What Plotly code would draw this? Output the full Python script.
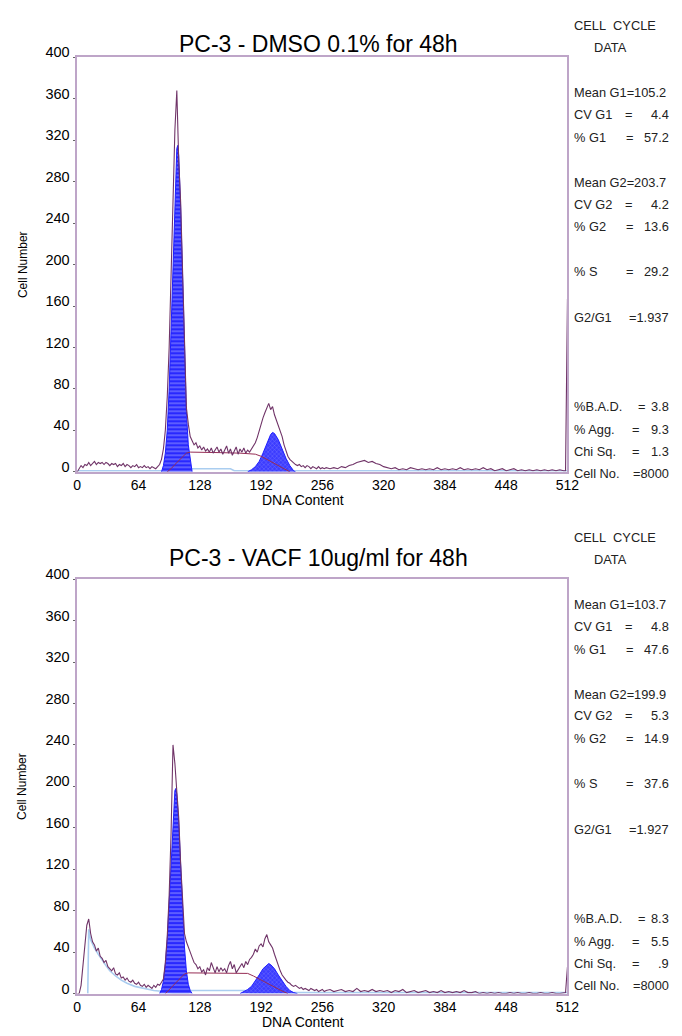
import plotly.graph_objects as go

W, H = 682, 1036

# ---------------- DATA ----------------
x_ticks = [0, 64, 128, 192, 256, 320, 384, 448, 512]
y_ticks = [0, 40, 80, 120, 160, 200, 240, 280, 320, 360, 400]

titles = ["PC-3 - DMSO 0.1% for 48h", "PC-3 - VACF 10ug/ml for 48h"]

# raw histogram channels (every 2 channels up to 258, then every 4)
raw_ch = list(range(0, 260, 2)) + list(range(260, 512, 4)) + [510, 512]

top_raw = [0, 3, 6, 4, 7, 6, 9, 6, 8, 10, 7, 9, 8, 9, 7, 9, 8, 6, 8, 7,
           8, 5, 7, 6, 8, 5, 7, 6, 4, 6, 5, 7, 4, 5, 4, 6, 4, 5, 3, 5,
           4, 3, 5, 7, 12, 22, 40, 72, 120, 185, 260, 330, 368, 300, 260, 185, 115, 62, 46, 34,
           30, 26, 28, 23, 25, 21, 24, 20, 22, 19, 23, 18, 21, 24, 19, 22, 17, 21, 25, 18,
           22, 16, 20, 24, 17, 22, 19, 23, 18, 21, 19, 22, 24, 28, 33, 40, 46, 52, 57, 62,
           66, 60, 63, 55, 50, 44, 39, 34, 26, 20, 15, 12, 10, 8, 7, 6, 7, 5, 6, 4,
           6, 5, 3, 5, 4, 3, 5, 3, 4, 3,
           4, 3, 4, 3, 5, 4, 6, 7, 9, 10, 11, 9, 10, 8, 7, 5, 4, 3, 4, 2,
           3, 2, 4, 3, 2, 3, 2, 3, 2, 4, 2, 3, 2, 3, 2, 4, 2, 3, 2, 3,
           2, 4, 2, 3, 1, 2, 3, 1, 2, 3, 1, 2, 1, 2, 1, 2, 1, 2, 1, 2,
           1, 2, 1, 1, 167]

bot_raw = [0, 0, 8, 30, 50, 66, 72, 58, 50, 47, 41, 44, 36, 34, 30, 32, 26, 24, 22, 25,
           19, 18, 20, 15, 16, 13, 15, 12, 11, 13, 10, 9, 11, 8, 7, 9, 6, 8, 6, 5,
           8, 6, 9, 8, 11, 14, 30, 55, 95, 155, 240, 222, 195, 170, 125, 88, 58, 50, 44, 40,
           35, 30, 28, 24, 26, 21, 23, 18, 25, 22, 30, 24, 20, 26, 21, 25, 22, 24, 20, 27,
           31, 24, 28, 20, 23, 26, 29, 25, 31, 28, 33, 35, 38, 43, 40, 46, 48, 45, 53, 57,
           50, 47, 44, 38, 32, 26, 22, 18, 15, 13, 11, 10, 8, 7, 8, 6, 5, 6, 4, 5,
           4, 3, 5, 4, 3, 4, 2, 3, 4, 2,
           3, 4, 2, 3, 4, 2, 3, 2, 5, 2, 3, 2, 4, 2, 3, 2, 3, 1, 3, 2,
           4, 1, 2, 3, 1, 2, 3, 1, 2, 1, 3, 1, 2, 1, 2, 1, 3, 1, 1, 2,
           0, 1, 0, 1, 0, 1, 0, 0, 1, 0, 1, 0, 0, 1, 0, 0, 1, 0, 0, 1,
           0, 0, 1, 1, 26]

# G1 model fits
top_g1_ch = [88, 90, 92, 94, 96, 98, 100, 102, 104, 105, 106, 108, 110, 112, 114, 116, 118, 120]
top_g1 = [0, 6, 18, 40, 80, 140, 210, 275, 312, 315, 305, 255, 180, 110, 58, 26, 10, 0]
bot_g1_ch = [86, 88, 90, 92, 94, 96, 98, 100, 102, 103, 104, 106, 108, 110, 112, 114, 116, 118, 120]
bot_g1 = [0, 4, 12, 28, 52, 88, 130, 172, 196, 198, 192, 165, 122, 80, 45, 22, 9, 3, 0]

# G2 model fits
top_g2_ch = [178, 182, 186, 190, 194, 198, 202, 204, 206, 210, 214, 218, 222, 226, 228]
top_g2 = [0, 2, 5, 10, 18, 28, 36, 38, 37, 31, 22, 13, 6, 1, 0]
bot_g2_ch = [170, 174, 178, 182, 186, 190, 194, 198, 200, 202, 206, 210, 214, 218, 222, 226, 230]
bot_g2 = [0, 2, 4, 7, 12, 18, 24, 28, 29, 28, 24, 18, 12, 7, 3, 1, 0]

# S-phase model
top_s_ch = [94, 98, 102, 106, 110, 114, 118, 130, 150, 170, 186, 192, 198, 204, 210, 216, 222]
top_s = [0, 3, 7, 11, 15, 18, 19, 19, 18.5, 18, 17, 15, 12, 9, 6, 3, 0]
bot_s_ch = [92, 96, 100, 104, 108, 112, 116, 140, 160, 178, 184, 190, 196, 202, 208, 214, 220]
bot_s = [0, 4, 8, 12, 16, 19, 20, 20, 20, 19.5, 17, 14, 11, 8, 5, 2.5, 0]

# debris / aggregate model (light blue)
top_deb_ch = [0, 118, 120, 160, 164, 512]
top_deb = [1, 1, 3, 3, 1, 1]
bot_deb_ch = [11, 12, 14, 18, 22, 26, 30, 34, 40, 46, 52, 60, 70, 80, 90, 100, 116, 118, 175, 180, 512]
bot_deb = [0, 62, 52, 44, 38, 32, 27, 22, 17, 13, 10, 7, 5, 3, 2, 1, 1, 3, 3, 1, 1]

stat_labels = ["Mean G1", "CV G1", "% G1", "Mean G2", "CV G2", "% G2", "% S", "G2/G1",
               "%B.A.D.", "% Agg.", "Chi Sq.", "Cell No."]
top_values = ["105.2", "4.4", "57.2", "203.7", "4.2", "13.6", "29.2", "1.937", "3.8", "9.3", "1.3", "8000"]
bot_values = ["103.7", "4.8", "47.6", "199.9", "5.3", "14.9", "37.6", "1.927", "8.3", "5.5", ".9", "8000"]

# ---------------- STYLE / LAYOUT ----------------
FONT = "Liberation Sans, Arial, sans-serif"
FRAME = "rgb(190,165,200)"
RAW = "rgb(112,52,104)"
SLINE = "rgb(150,45,85)"
BLUE = "rgb(30,30,255)"
DEB = "rgb(170,205,240)"

# pixel geometry of the two panels: (top px, bottom px)
panel_px = [(45, 466), (575, 996)]
title_px = [31, 554]
x_px = (75, 577)
stat_row_px = [81, 103, 126, 172, 194, 217, 263, 309, 400, 423, 445, 468]
stat_style = ["join", "eq", "eq", "join", "eq", "eq", "eq", "att", "eq", "eq", "eq", "att"]
eq_px = [0, 640, 641, 0, 640, 641, 641, 0, 653, 647, 647, 0]
stat_shift = [0, 520]

def px(xp):
    return xp / W

def py(yp):
    return 1 - yp / H

fig = go.Figure()

raws = [top_raw, bot_raw]
g1s = [(top_g1_ch, top_g1), (bot_g1_ch, bot_g1)]
g2s = [(top_g2_ch, top_g2), (bot_g2_ch, bot_g2)]
ss = [(top_s_ch, top_s), (bot_s_ch, bot_s)]
debs = [(top_deb_ch, top_deb), (bot_deb_ch, bot_deb)]
vals = [top_values, bot_values]

annotations = []
for i in range(2):
    xa = "x" if i == 0 else "x2"
    ya = "y" if i == 0 else "y2"
    fig.add_trace(go.Scatter(x=debs[i][0], y=debs[i][1], mode="lines",
                             line=dict(color=DEB, width=1.6), xaxis=xa, yaxis=ya,
                             showlegend=False, hoverinfo="skip"))
    fig.add_trace(go.Scatter(x=g1s[i][0], y=g1s[i][1], mode="lines", fill="tozeroy",
                             line=dict(color=BLUE, width=1),
                             fillcolor="rgb(40,40,255)",
                             fillpattern=dict(shape="-", bgcolor="rgb(40,40,255)",
                                              fgcolor="rgb(190,190,255)", size=4, solidity=0.35),
                             xaxis=xa, yaxis=ya, showlegend=False, hoverinfo="skip"))
    fig.add_trace(go.Scatter(x=g2s[i][0], y=g2s[i][1], mode="lines", fill="tozeroy",
                             line=dict(color=BLUE, width=1),
                             fillcolor="rgb(60,60,255)",
                             fillpattern=dict(shape="x", bgcolor="rgb(60,60,255)",
                                              fgcolor="rgb(160,160,255)", size=3, solidity=0.3),
                             xaxis=xa, yaxis=ya, showlegend=False, hoverinfo="skip"))
    fig.add_trace(go.Scatter(x=ss[i][0], y=ss[i][1], mode="lines",
                             line=dict(color=SLINE, width=1),
                             xaxis=xa, yaxis=ya, showlegend=False, hoverinfo="skip"))
    fig.add_trace(go.Scatter(x=raw_ch, y=raws[i], mode="lines",
                             line=dict(color=RAW, width=1.1),
                             xaxis=xa, yaxis=ya, showlegend=False, hoverinfo="skip"))

    top, bot = panel_px[i]
    annotations.append(dict(text=titles[i], xref="paper", yref="paper",
                            x=px(322), y=py(title_px[i]), xanchor="center", yanchor="middle",
                            showarrow=False, font=dict(family=FONT, size=23, color="black")))
    annotations.append(dict(text="DNA Content", xref="paper", yref="paper",
                            x=px(306), y=py(bot + 29), xanchor="center", yanchor="middle",
                            showarrow=False, font=dict(family=FONT, size=14, color="black")))
    annotations.append(dict(text="Cell Number", xref="paper", yref="paper",
                            x=px(19), y=py((top + bot) / 2), xanchor="center", yanchor="middle",
                            textangle=-90, showarrow=False,
                            font=dict(family=FONT, size=12, color="black")))
    sh = stat_shift[i]
    f = dict(family=FONT, size=12.8, color="#222")
    annotations.append(dict(text="CELL&nbsp;&nbsp;CYCLE", xref="paper", yref="paper",
                            x=px(626), y=py(13 + sh), xanchor="center", yanchor="middle",
                            showarrow=False, font=f))
    annotations.append(dict(text="DATA", xref="paper", yref="paper",
                            x=px(621), y=py(35 + sh), xanchor="center", yanchor="middle",
                            showarrow=False, font=f))
    for k, lab in enumerate(stat_labels):
        yy = py(stat_row_px[k] + sh)
        v = vals[i][k]
        if stat_style[k] == "join":
            annotations.append(dict(text=f"{lab}={v}", xref="paper", yref="paper",
                                    x=px(582), y=yy, xanchor="left", yanchor="middle",
                                    showarrow=False, font=f))
            continue
        annotations.append(dict(text=lab, xref="paper", yref="paper",
                                x=px(582), y=yy, xanchor="left", yanchor="middle",
                                showarrow=False, font=f))
        if stat_style[k] == "eq":
            annotations.append(dict(text="=", xref="paper", yref="paper",
                                    x=px(eq_px[k]), y=yy, xanchor="center", yanchor="middle",
                                    showarrow=False, font=f, borderpad=0, borderwidth=0))
            vt = v
        else:
            vt = "=" + v
        annotations.append(dict(text=vt, xref="paper", yref="paper",
                                x=px(681), y=yy, xanchor="right", yanchor="middle",
                                showarrow=False, font=f, borderpad=0, borderwidth=0))

def xaxis_cfg(i):
    return dict(domain=[px(x_px[0]), px(x_px[1])], range=[0, 512], anchor="y" if i == 0 else "y2",
                tickvals=x_ticks, ticktext=[str(t) for t in x_ticks], ticks="",
                showline=True, linecolor=FRAME, linewidth=1.5, mirror=True,
                showgrid=False, zeroline=False, ticklabelstandoff=0,
                tickfont=dict(family=FONT, size=14, color="black"))

def yaxis_cfg(i):
    return dict(domain=[py(panel_px[i][1]), py(panel_px[i][0])], range=[0, 400],
                anchor="x" if i == 0 else "x2",
                tickvals=y_ticks, ticktext=[str(t) for t in y_ticks],
                ticks="outside", ticklen=2, tickcolor="#666", tickwidth=1,
                ticklabelshift=-5, ticklabelstandoff=1,
                showline=True, linecolor=FRAME, linewidth=1.5, mirror=True,
                showgrid=False, zeroline=False,
                tickfont=dict(family=FONT, size=14.5, color="black"))

fig.update_layout(
    width=W, height=H,
    margin=dict(l=0, r=0, t=0, b=0),
    paper_bgcolor="white", plot_bgcolor="white",
    xaxis=xaxis_cfg(0), yaxis=yaxis_cfg(0),
    xaxis2=xaxis_cfg(1), yaxis2=yaxis_cfg(1),
    annotations=annotations,
    showlegend=False,
)

fig.write_html("out.html")
